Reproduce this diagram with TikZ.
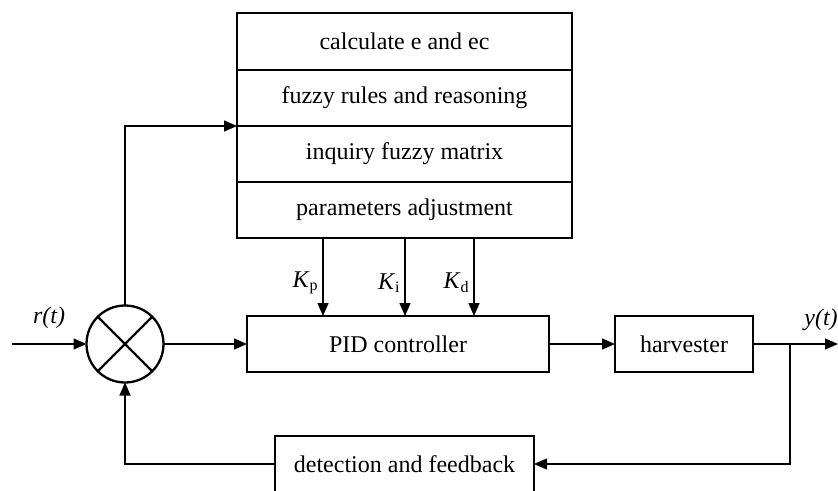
\documentclass[tikz,border=0pt]{standalone}
\usepackage{fontspec}
\setmainfont{Liberation Serif}
\usetikzlibrary{arrows.meta}
\begin{document}
\begin{tikzpicture}[x=0.5pt,y=-0.5pt,
  box/.style={draw,line width=1.1pt,inner sep=0pt,outer sep=0pt,minimum height=28pt,font=\fontsize{12}{14}\selectfont},
  conn/.style={line width=0.7pt,-{Triangle[length=6.5pt,width=5.5pt]}},
  lbl/.style={inner sep=0pt,font=\fontsize{12}{14}\selectfont}]
\useasboundingbox (0,0) rectangle (838,491);
% fuzzy block rows
\node[box,minimum width=167.5pt,minimum height=28.5pt] (f1) at (404.5,41.5) {calculate e and ec};
\node[box,minimum width=167.5pt] (f2) at (404.5,98) {fuzzy rules and reasoning};
\node[box,minimum width=167.5pt] (f3) at (404.5,154) {inquiry fuzzy matrix};
\node[box,minimum width=167.5pt] (f4) at (404.5,210) {parameters adjustment};
% main blocks
\node[box,minimum width=151pt] (pid) at (398,344) {PID controller};
\node[box,minimum width=69pt] (harv) at (684,344) {harvester};
\node[box,minimum width=129.5pt] (det) at (404.5,464) {detection and feedback};
% summing junction
\node[draw,circle,line width=1.15pt,minimum size=38.5pt,inner sep=0pt,outer sep=0pt] (sum) at (125,344) {};
\draw[line width=1.15pt] (sum.45) -- (sum.225) (sum.135) -- (sum.315);
% coordinates
\coordinate (in) at (12,344);
\coordinate (out) at (838,344);
\coordinate (jn) at (790,344);
\coordinate (fbr) at (790,464);
\coordinate (fbl) at (125,464);
\coordinate (up) at (125,126);
\coordinate (kp) at (323,238);
\coordinate (ki) at (405,238);
\coordinate (kd) at (474,238);
% connectors
\draw[conn] (in) -- (sum.west);
\draw[conn] (sum.east) -- (pid.west);
\draw[conn] (pid.east) -- (harv.west);
\draw[conn] (harv.east) -- (out);
\draw[conn] (sum.north) -- (up) -- (up -| f2.west);
\draw[conn] (jn) -- (fbr) -- (det.east);
\draw[conn] (det.west) -- (fbl) -- (sum.south);
\draw[conn] (kp) -- (kp |- pid.north);
\draw[conn] (ki) -- (ki |- pid.north);
\draw[conn] (kd) -- (kd |- pid.north);
% labels
\node[lbl,anchor=east] (lkp) at (319,283) {\textit{K}\textsubscript{p}};
\node[lbl,anchor=east] (lki) at (401,283) {\textit{K}\textsubscript{i}};
\node[lbl,anchor=east] (lkd) at (470,283) {\textit{K}\textsubscript{d}};
\node[lbl] (lr) at (49,318) {\textit{r(t)}};
\node[lbl] (ly) at (821,320) {\textit{y(t)}};
\end{tikzpicture}
\end{document}
